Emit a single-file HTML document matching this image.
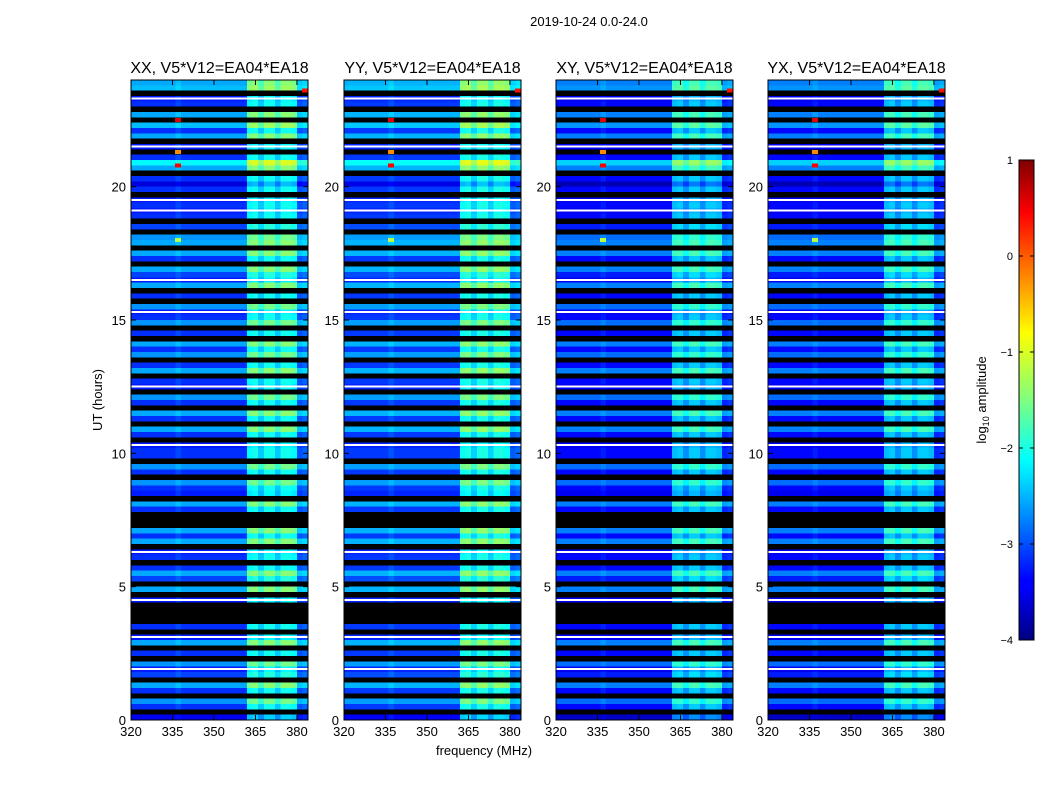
<!DOCTYPE html>
<html><head><meta charset="utf-8"><style>
body{margin:0;background:#fff;font-family:"Liberation Sans",sans-serif}
svg text{font-family:"Liberation Sans",sans-serif}
</style></head><body>
<svg id="fig" width="1050" height="800" xmlns="http://www.w3.org/2000/svg">
<defs><linearGradient id="jet" x1="0" y1="1" x2="0" y2="0">
<stop offset="0" stop-color="#00007f"/><stop offset="0.11" stop-color="#0000ff"/><stop offset="0.125" stop-color="#0000ff"/>
<stop offset="0.34" stop-color="#00dfff"/><stop offset="0.375" stop-color="#00ffff"/><stop offset="0.5" stop-color="#7fff7f"/>
<stop offset="0.64" stop-color="#ffff00"/><stop offset="0.89" stop-color="#ff0000"/><stop offset="1" stop-color="#7f0000"/>
</linearGradient></defs>
<text x="589" y="26" font-size="13" text-anchor="middle">2019-10-24 0.0-24.0</text>
<text x="484" y="755" font-size="13" text-anchor="middle">frequency (MHz)</text>
<text transform="translate(102,400) rotate(-90)" font-size="13" text-anchor="middle">UT (hours)</text>
<g id="panels"></g>
<g id="cbar">
<rect x="1019" y="160" width="15" height="480" fill="url(#jet)" stroke="#000"/>
</g>
<text transform="translate(986,400) rotate(-90)" font-size="13" text-anchor="middle">log<tspan font-size="9" dy="3">10</tspan><tspan dy="-3"> amplitude</tspan></text>
</svg>
<script>
const panelTitles=["XX, V5*V12=EA04*EA18","YY, V5*V12=EA04*EA18","XY, V5*V12=EA04*EA18","YX, V5*V12=EA04*EA18"];
const panelBase=[-0.25,-0.2,-0.45,-0.45];
const panelBandGain=[0.85,0.85,0.75,0.75];
// row levels from 24h down to 0h, 0.2 h per row; -9 = flagged (black), null = no-data gap (white line)
const rowLevels=[
-2.3,-2.2,-9,null,-2.9,
-9,-2.3,-9,-2.2,-2.9,
-2.3,-9,null,-9,-2.9,
-1.9,-2.3,-9,-2.9,-3.3,
-2.9,-9,null,-2.9,null,
-2.9,-9,-2.8,-9,-2.4,
-2.3,-9,-2.3,-2.9,-9,
-2.3,-2.8,null,-2.3,-9,
-2.9,-9,-2.4,null,-2.9,
-2.4,-9,-2.9,-9,-2.3,
-2.9,-2.4,-9,-2.9,-2.3,
-9,-2.9,null,-9,-2.4,
-2.9,-9,-2.3,-2.9,-9,
-2.3,-2.9,-9,null,-2.9,
-2.9,-9,-2.4,-2.9,-9,
-2.4,-2.9,-3.0,-9,-2.3,
-2.9,-9,-9,-9,-2.3,
-2.9,-2.3,-9,null,-2.9,
-9,-2.9,-2.3,-2.8,-9,
-2.3,-9,null,-9,-9,
-9,-9,-2.9,-9,null,
-2.3,-9,-2.9,-9,-2.4,
null,-2.8,-9,-2.3,-2.9,
-9,-2.4,-2.9,-9,-3.2];
const freqStart=320, freqStep=2;
const colOffsets=[0,0,0,0,0,0,0,0,0.15,0,0,0,0,0,0,0,0,0,0,0,0,1.2,1.3,0.9,1.3,1.3,0.9,1.3,1.3,1.2,0.2,0.3];
const spikeTimes=[22.5,20.8,23.6,18.0,21.3];
const spikeFreqs=[337,337,383,337,337];
const spikeVals=[0.5,0.4,0.3,-1.2,-0.3];
const yTicks=[0,5,10,15,20];
const xTicks=[320,335,350,365,380];
const panelX=[131,344,556,768];
const W=177, Y0=720, Y1=80, tMax=24, fMax=384;
function ys(t){return Y0-(t/tMax)*(Y0-Y1);}
function jet(v){let t=(v+4)/5;t=Math.max(0,Math.min(1,t));
 const r=Math.max(0,Math.min(1,1.5-Math.abs(4*t-3))),g=Math.max(0,Math.min(1,1.5-Math.abs(4*t-2))),b=Math.max(0,Math.min(1,1.5-Math.abs(4*t-1)));
 return `rgb(${Math.round(r*255)},${Math.round(g*255)},${Math.round(b*255)})`;}
const NS="http://www.w3.org/2000/svg";
function mk(tag,attrs,parent){const e=document.createElementNS(NS,tag);for(const k in attrs)e.setAttribute(k,attrs[k]);parent.appendChild(e);return e;}
const root=document.getElementById('panels');
const rowH=tMax/rowLevels.length;
panelX.forEach((px,p)=>{
 const xs=f=>px+(f-freqStart)/(fMax-freqStart)*W;
 const g=mk('g',{},root);
 
 
 const hm=mk('g',{'shape-rendering':'crispEdges'},g);
 
 
 rowLevels.forEach((lv,r)=>{
  const t1=tMax-r*rowH,t0=t1-rowH;
  const y=ys(t1),h=ys(t0)-ys(t1);
  if(lv!==null&&lv<-8){const c=mk('rect',{x:px,y:y,width:W,height:h+0.5,fill:'#000'},hm);
   
   return;}
  const base=lv===null?-3.0:lv;
  colOffsets.forEach((o,c)=>{
   const f=freqStart+c*freqStep;
   const v=base+panelBase[p]+o*panelBandGain[p];
   const cell=mk('rect',{x:xs(f),y:y,width:xs(f+freqStep)-xs(f)+0.5,height:h+0.5,fill:jet(v)},hm);
   
   
  });
  if(lv===null){const wl=mk('rect',{x:px,y:y+1.5,width:W,height:2,fill:'#fff'},hm);
   
   }
 });
 spikeTimes.forEach((t,i)=>{
  const s=mk('rect',{x:xs(spikeFreqs[i])-3,y:ys(t)-2,width:6,height:4,fill:jet(spikeVals[i])},hm);
  
  
 });
 mk('rect',{x:px,y:Y1,width:W,height:Y0-Y1,fill:'none',stroke:'#000'},g);
 const tt=mk('text',{x:px+W/2,y:73,'font-size':16,'text-anchor':'middle'},g);tt.textContent=panelTitles[p];
 
 
 yTicks.forEach(t=>{const y=ys(t);mk('line',{x1:px,x2:px+5,y1:y,y2:y,stroke:'#000'},g);mk('line',{x1:px+W-5,x2:px+W,y1:y,y2:y,stroke:'#000'},g);
  const l=mk('text',{x:px-5,y:y+5,'font-size':13,'text-anchor':'end'},g);l.textContent=t;
  
  });
 xTicks.forEach(f=>{const x=xs(f);mk('line',{x1:x,x2:x,y1:Y0,y2:Y0-5,stroke:'#000'},g);mk('line',{x1:x,x2:x,y1:Y1,y2:Y1+5,stroke:'#000'},g);
  const l=mk('text',{x:x,y:Y0+16,'font-size':13,'text-anchor':'middle'},g);l.textContent=f;
  
  });
});
const cbTicks=[1,0,-1,-2,-3,-4];
const cb=document.getElementById('cbar');
cbTicks.forEach(v=>{const y=160+(1-v)/5*480;
 mk('line',{x1:1019,x2:1023,y1:y,y2:y,stroke:'#000'},cb);mk('line',{x1:1030,x2:1034,y1:y,y2:y,stroke:'#000'},cb);
 const l=mk('text',{x:1013,y:y+4,'font-size':11,'text-anchor':'end'},cb);l.textContent=v<0?'\u2212'+(-v):v;
 
 });
</script>
</body></html>
